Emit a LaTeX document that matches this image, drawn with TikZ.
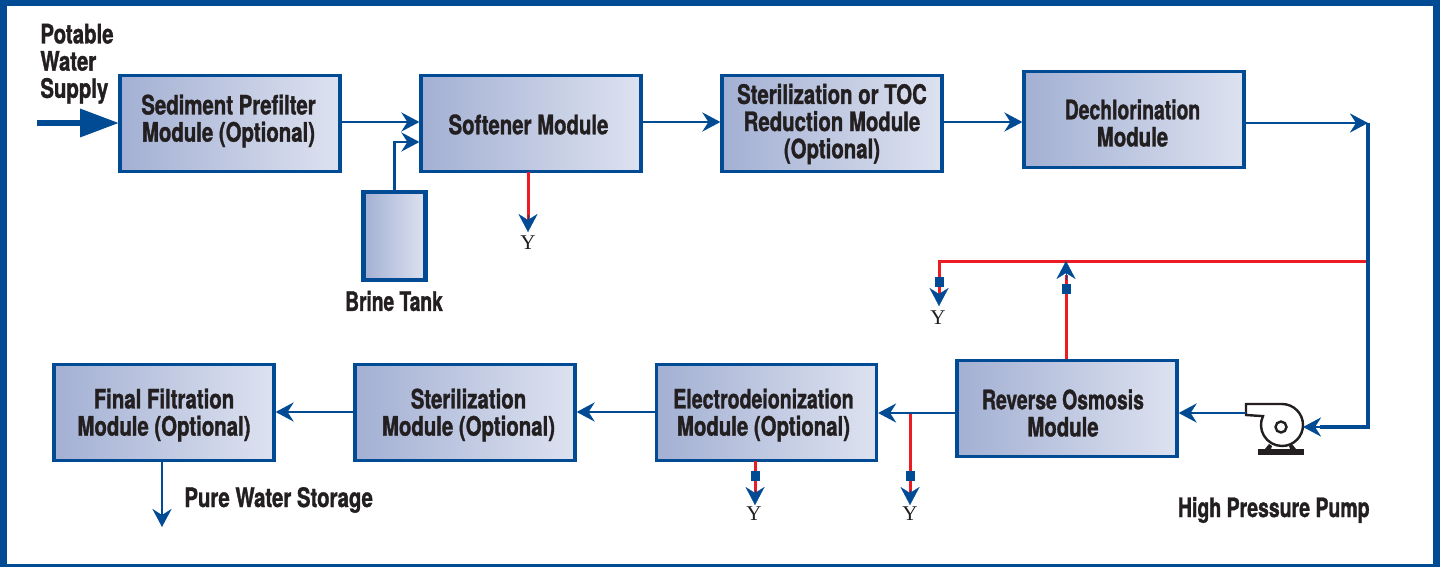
\documentclass[tikz,border=0pt]{standalone}
\usepackage{fontspec}
\usepackage{graphicx}
\setmainfont{TeX Gyre Heros}[BoldFeatures={FakeStretch=0.76,FakeBold=1.2}]
\newfontfamily\yfont{Liberation Serif}
\usetikzlibrary{arrows.meta}
\definecolor{fblue}{HTML}{004B93}
\definecolor{fred}{HTML}{ED1C24}
\definecolor{fink}{HTML}{231F20}
\definecolor{shadeL}{HTML}{A3B0D3}
\definecolor{shadeR}{HTML}{DDE2F0}
\newcommand{\narrowtext}[2]{\scalebox{#1}[1]{#2}}
\tikzset{
  x=0.5pt,y=-0.5pt,
  module/.style={draw=fblue,line width=1.6pt,left color=shadeL,right color=shadeR,shading angle=90,
    minimum width=110pt,minimum height=48pt,inner sep=0pt},
  modtext/.style={inner sep=0pt,align=center,text=fink,font=\bfseries\fontsize{13.4}{13.6}\selectfont},
  label/.style={text=fink,inner sep=0pt,font=\bfseries\fontsize{13.4}{13.6}\selectfont},
  ylabel/.style={text=fink,inner sep=0pt,font=\yfont\fontsize{10.5}{11}\selectfont},
  tip/.style={-{Stealth[length=9pt,width=9.5pt,inset=3pt]}},
  flow/.style={draw=fblue,line width=1.4pt,tip},
  headonly/.style={draw=fblue,line width=.1pt,tip},
  reject/.style={draw=fred,line width=1.5pt},
  valve/.style={fill=fblue,draw=none,minimum width=4.5pt,minimum height=5pt,inner sep=0pt},
  pumpline/.style={draw=fink,line width=1.2pt},
}
\begin{document}
\begin{tikzpicture}
\useasboundingbox (0,0) rectangle (1440,567);
\fill[fblue] (0,0) rectangle (1440,567);
\fill[white] (6.5,6) rectangle (1432.5,564);

\node[module] (sed) at (230,123.5) {};
\node[module] (soft) at (531,123.5) {};
\node[module] (ster) at (832,123.5) {};
\node[module] (dech) at (1134,119.5) {};
\node[module] (ro) at (1067,408.5) {};
\node[module] (edi) at (766.5,412.5) {};
\node[module] (st2) at (465,412.5) {};
\node[module] (fin) at (164,412.5) {};
\node[draw=fblue,line width=2.2pt,left color=shadeL,right color=shadeR,shading angle=90,minimum width=31pt,minimum height=44pt,inner sep=0pt] (tank) at (394.5,236) {};

\node[modtext] (sedT) at (228.5,121) {Sediment Prefilter\\Module (Optional)};
\node[modtext] (softT) at (528.5,124.5) {Softener Module};
\node[modtext] (sterT) at (832,124) {Sterilization or TOC\\Reduction Module\\(Optional)};
\node[modtext] (dechT) at (1132.5,123) {\narrowtext{.95}{Dechlorination}\\Module};
\node[modtext] (roT) at (1063,413) {\narrowtext{.95}{Reverse Osmosis}\\Module};
\node[modtext] (ediT) at (763.5,415) {\narrowtext{.96}{Electrodeionization}\\Module (Optional)};
\node[modtext] (st2T) at (468.5,415) {Sterilization\\Module (Optional)};
\node[modtext] (finT) at (164,415) {Final Filtration\\Module (Optional)};

\node[label,align=left,anchor=north west] (pot) at (40,23.5) {Potable\\Water\\Supply};
\node[label] (brine) at (394,301) {\narrowtext{.94}{Brine Tank}};
\node[label,anchor=west] (pure) at (184,500) {Pure Water Storage};
\node[label,anchor=east] (hpp) at (1370,510) {\narrowtext{.955}{High Pressure Pump}};

% pump
\node[minimum width=29pt,minimum height=26pt,inner sep=0pt] (pump) at (1275,429) {};
\draw[pumpline,line join=miter] (1246,404) -- (1282,404) arc[start angle=-90,end angle=205,radius=21] -- (1246,415) -- cycle;
\draw[pumpline] (1281,427) circle[radius=5.5];
\fill[fink] (1258,449) rectangle (1303.5,455);
\fill[fink] (1265,449) -- (1269,444) -- (1272,446) -- (1271,449) -- cycle;
\fill[fink] (1296,449) -- (1292,444) -- (1289,446) -- (1290,449) -- cycle;

% source
\coordinate (src) at (37,123);
\draw[fblue,line width=3.3pt] (src) -- (80,123);
\fill[fblue] (80,108.5) -- (sed.west |- 0,123) -- (80,137.5) -- cycle;

\coordinate (brineTurn) at (tank.north |- 0,142);
\coordinate (softB) at (soft.west |- 0,142);
\coordinate (sftY) at (528,232);
\coordinate (dechEnd) at (1368,123);
\coordinate (rejT) at (1368,261);
\coordinate (pumpC) at (1368,427);
\coordinate (rejL) at (939,261);
\coordinate (rejEnd) at (939,306);
\coordinate (roUp) at (1066,261);
\coordinate (br) at (910,413);

\draw[flow] (sed.east |- 0,122) -- (soft.west |- 0,122);
\draw[flow] (tank.north) -- (brineTurn) -- (softB);
\draw[flow] (soft.east |- 0,122) -- (ster.west |- 0,122);
\draw[flow] (ster.east |- 0,122) -- (dech.west |- 0,122);
\draw[flow] (dech.east |- 0,123) -- (dechEnd);
\draw[reject] (rejT) -- (rejL) -- (939,295);
\draw[fblue,line width=1.6pt] (dechEnd) -- (pumpC) -- (1320,427);
\draw[flow] (1330,427) -- (1303,427);
\draw[flow] (pump.north west |- 0,413) -- (ro.east |- 0,413);
\draw[reject] (br) -- (910,495);
\draw[flow] (ro.west |- 0,413) -- (edi.east |- 0,413);
\draw[flow] (edi.west |- 0,412) -- (st2.east |- 0,412);
\draw[flow] (st2.west |- 0,412) -- (fin.east |- 0,412);
\draw[flow] (162,461) -- (162,527);

% red branches
\draw[headonly] (939,295) -- (rejEnd);
\node[valve] (v1) at (939,282) {};
\draw[reject] (ro.north -| roUp) -- (1066,275);
\draw[headonly] (1066,280) -- (roUp);
\node[valve] (v2) at (1066,289) {};
\draw[reject] (528,172) -- (528,222);
\draw[headonly] (528,215) -- (sftY);
\draw[reject] (755,461) -- (755,495);
\draw[headonly] (755,490) -- (755,505);
\node[valve] (v3) at (755,476) {};
\draw[headonly] (910,490) -- (910,505);
\node[valve] (v4) at (910,476) {};

\node[ylabel] (y1) at (528,243) {Y};
\node[ylabel] (y2) at (938,318) {Y};
\node[ylabel] (y3) at (754,514) {Y};
\node[ylabel] (y4) at (910,514) {Y};
\end{tikzpicture}
\end{document}
